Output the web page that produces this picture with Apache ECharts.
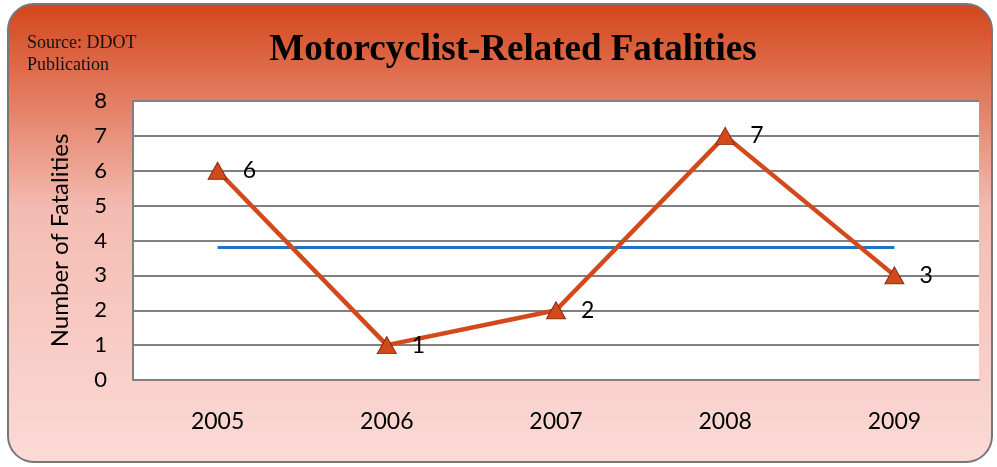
<!DOCTYPE html>
<html>
<head>
<meta charset="utf-8">
<script src="https://cdn.jsdelivr.net/npm/echarts@6/dist/echarts.min.js"></script>
<style>
  html, body { margin: 0; padding: 0; background: #fff; }
  #chart { width: 997px; height: 467px; }
</style>
</head>
<body>
<div id="chart"></div>
<script>
// data
var years = ['2005', '2006', '2007', '2008', '2009']
var fatalities = [6, 1, 2, 7, 3]
var averageLine = [3.8, 3.8, 3.8, 3.8, 3.8]
var yTicks = [0, 1, 2, 3, 4, 5, 6, 7, 8]

var myChart = echarts.init(document.getElementById('chart'))

var sans = 'Lato, "Open Sans", sans-serif'

var option = {
  animation: false,
  backgroundColor: '#fff',
  graphic: [
    {
      type: 'rect',
      z: -10,
      shape: { x: 8, y: 4, width: 984, height: 458, r: 26 },
      style: {
        fill: {
          type: 'linear', x: 0, y: 0, x2: 0, y2: 1,
          colorStops: [
            { offset: 0, color: '#D3461A' },
            { offset: 0.2, color: '#E27A5E' },
            { offset: 0.45, color: '#F4BCB2' },
            { offset: 1, color: '#FBDAD6' }
          ]
        },
        stroke: '#777',
        lineWidth: 2
      }
    },
    {
      type: 'text',
      left: 27,
      top: 32,
      style: {
        text: 'Source: DDOT\nPublication',
        fontFamily: '"Liberation Serif", serif',
        fontSize: 18,
        lineHeight: 22,
        fill: '#111'
      }
    }
  ],
  title: {
    text: 'Motorcyclist-Related Fatalities',
    left: 508,
    textAlign: 'center',
    top: 27,
    textStyle: {
      fontFamily: '"Liberation Serif", serif',
      fontWeight: 'bold',
      fontSize: 37,
      color: '#000'
    }
  },
  grid: {
    left: 133,
    right: 18,
    top: 101,
    bottom: 87,
    show: true,
    backgroundColor: '#fff',
    borderWidth: 0
  },
  xAxis: {
    type: 'category',
    data: years,
    boundaryGap: true,
    axisTick: { show: false },
    axisLine: { lineStyle: { color: '#808080', width: 2 } },
    axisLabel: {
      color: '#000',
      fontFamily: sans,
      fontSize: 23,
      margin: 30
    }
  },
  yAxis: {
    type: 'value',
    min: yTicks[0],
    max: yTicks[yTicks.length - 1],
    interval: 1,
    name: 'Number of Fatalities',
    nameLocation: 'middle',
    nameGap: 61,
    nameRotate: 90,
    nameTextStyle: { color: '#000', fontFamily: sans, fontSize: 24 },
    axisLine: { show: true, lineStyle: { color: '#808080', width: 2 } },
    axisTick: { show: false },
    splitLine: { lineStyle: { color: '#808080', width: 2 } },
    axisLabel: {
      color: '#000',
      fontFamily: sans,
      fontSize: 22,
      margin: 26
    }
  },
  series: [
    {
      type: 'line',
      data: averageLine,
      showSymbol: false,
      lineStyle: { color: '#1E73C2', width: 3 },
      z: 2
    },
    {
      type: 'line',
      data: fatalities,
      symbol: 'triangle',
      symbolSize: [19, 17],
      itemStyle: { color: '#D24A1C', borderColor: '#8B2A0E', borderWidth: 1 },
      lineStyle: { color: '#D24A1C', width: 4.5 },
      label: {
        show: true,
        position: 'right',
        distance: 15,
        color: '#000',
        fontFamily: sans,
        fontSize: 23
      },
      z: 3
    }
  ]
}

myChart.setOption(option)
</script>
</body>
</html>
